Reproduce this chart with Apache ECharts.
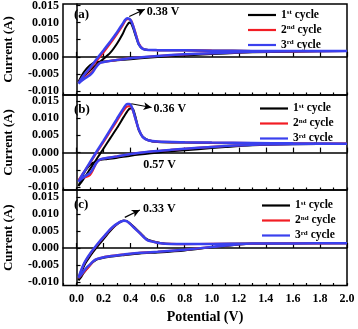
<!DOCTYPE html>
<html><head><meta charset="utf-8">
<script src="https://cdn.jsdelivr.net/npm/echarts@6/dist/echarts.min.js"></script>
<style>html,body{margin:0;padding:0;background:#fff}#c{width:358px;height:329px}</style>
</head><body><div id="c"></div>
<script>
const cycleNames = ['1st cycle', '2nd cycle', '3rd cycle'];
const xTickValues = [0.0, 0.2, 0.4, 0.6, 0.8, 1.0, 1.2, 1.4, 1.6, 1.8, 2.0];
const yTickValues = [-0.010, -0.005, 0.000, 0.005, 0.010, 0.015];
const panelLabels = ['(a)', '(b)', '(c)'];
const peakLabels = ['0.38 V', '0.36 V', '0.33 V'];
const extraLabel = '0.57 V';

// ---- panel (a): potential (V) and current (mA) ----
const aCathV = [2.0, 1.6, 1.3, 1.1, 0.9, 0.7, 0.55, 0.4, 0.3, 0.22, 0.18, 0.16, 0.14, 0.12, 0.1, 0.07, 0.04, 0.015];
const aCath1 = [1.7, 1.5, 1.3, 1.0, 0.6, 0.2, -0.2, -0.7, -1.0, -1.3, -1.4, -1.5, -1.6, -1.9, -2.5, -3.7, -5.4, -7.3];
const aCath2 = [1.7, 1.6, 1.45, 1.2, 0.9, 0.5, 0.1, -0.4, -0.9, -1.4, -1.7, -2.2, -3.1, -4.2, -5.0, -5.9, -6.8, -7.6];
const aCath3 = [1.7, 1.6, 1.45, 1.2, 0.9, 0.5, 0.1, -0.4, -0.9, -1.4, -1.7, -2.3, -3.3, -4.5, -5.3, -6.1, -6.9, -7.8];
const aAnodV = [0.015, 0.05, 0.1, 0.15, 0.2, 0.25, 0.3, 0.34, 0.36, 0.375, 0.39, 0.405, 0.42, 0.44, 0.46, 0.49, 0.53, 0.6, 0.8, 1.0, 1.3, 1.6, 2.0];
const aAnod1 = [-7.3, -5.8, -4.0, -2.2, -0.6, 1.2, 3.9, 6.6, 8.3, 9.3, 10.0, 9.7, 8.2, 5.8, 3.6, 2.3, 2.0, 1.95, 1.9, 1.8, 1.7, 1.7, 1.7];
const aAnod2 = [-7.6, -5.7, -3.5, -1.1, 1.3, 3.9, 6.7, 9.1, 10.5, 11.0, 11.0, 10.5, 9.0, 6.5, 4.0, 2.4, 2.0, 1.95, 1.9, 1.8, 1.7, 1.7, 1.7];
const aAnod3 = [-7.8, -5.6, -3.2, -0.6, 1.9, 4.5, 7.2, 9.6, 10.8, 11.3, 11.1, 10.4, 8.8, 6.2, 3.7, 2.3, 2.0, 1.95, 1.9, 1.8, 1.7, 1.7, 1.7];

// ---- panel (b) ----
const bCathV = [2.0, 1.6, 1.3, 1.1, 0.9, 0.7, 0.55, 0.4, 0.3, 0.22, 0.18, 0.16, 0.14, 0.12, 0.1, 0.07, 0.04, 0.015];
const bCath1 = [2.6, 2.4, 2.1, 1.6, 1.0, 0.4, -0.2, -0.9, -1.5, -1.9, -2.1, -2.3, -2.6, -3.0, -3.6, -5.0, -7.2, -9.7];
const bCath2 = [2.6, 2.5, 2.3, 1.9, 1.4, 0.8, 0.3, -0.4, -1.1, -1.6, -1.9, -2.4, -3.5, -5.2, -6.5, -7.1, -7.3, -8.0];
const bCath3 = [2.6, 2.5, 2.3, 1.9, 1.4, 0.8, 0.3, -0.4, -1.1, -1.6, -1.9, -2.4, -3.4, -4.8, -5.9, -6.7, -7.5, -8.4];
const bAnodV = [0.015, 0.05, 0.1, 0.15, 0.2, 0.25, 0.3, 0.34, 0.36, 0.375, 0.39, 0.405, 0.42, 0.44, 0.46, 0.49, 0.53, 0.6, 0.8, 1.0, 1.3, 1.6, 2.0];
const bAnod1 = [-9.7, -7.8, -4.8, -1.8, 1.2, 4.2, 7.2, 9.8, 11.1, 12.0, 12.7, 12.9, 12.5, 9.8, 6.5, 4.6, 3.6, 3.1, 2.9, 2.8, 2.7, 2.6, 2.6];
const bAnod2 = [-8.0, -5.9, -3.0, 0.1, 3.1, 6.2, 9.3, 11.8, 12.9, 13.4, 13.5, 13.2, 11.8, 9.2, 6.8, 4.5, 3.6, 3.2, 3.0, 2.9, 2.8, 2.7, 2.6];
const bAnod3 = [-8.4, -6.0, -2.8, 0.4, 3.5, 6.7, 9.9, 12.4, 13.6, 14.1, 14.1, 13.6, 12.0, 9.3, 6.8, 4.5, 3.6, 3.2, 3.0, 2.9, 2.8, 2.7, 2.6];

// ---- panel (c) ----
const cCathV = [2.0, 1.6, 1.3, 1.2, 1.0, 0.8, 0.6, 0.47, 0.35, 0.245, 0.17, 0.14, 0.12, 0.1, 0.07, 0.05, 0.035, 0.015];
const cCath1 = [1.4, 1.35, 1.25, 1.0, 0.2, -0.7, -1.3, -1.6, -2.1, -2.6, -3.2, -3.6, -4.2, -5.0, -6.4, -7.5, -8.5, -9.5];
const cCath2 = [1.4, 1.35, 1.3, 1.1, 0.3, -0.5, -1.1, -1.4, -1.9, -2.4, -3.0, -3.4, -4.1, -5.1, -6.5, -7.3, -8.0, -8.8];
const cCath3 = [1.4, 1.35, 1.3, 1.1, 0.3, -0.5, -1.1, -1.4, -1.9, -2.4, -3.0, -3.4, -4.0, -4.8, -6.0, -7.0, -7.8, -8.7];
const cAnodV = [0.015, 0.03, 0.05, 0.07, 0.1, 0.12, 0.17, 0.21, 0.245, 0.28, 0.31, 0.33, 0.35, 0.37, 0.39, 0.43, 0.47, 0.52, 0.57, 0.62, 0.7, 0.8, 1.0, 1.3, 1.6, 2.0];
const cAnod1 = [-9.5, -8.0, -5.8, -4.2, -2.4, -1.3, 1.2, 3.1, 4.8, 6.3, 7.3, 7.8, 8.1, 8.0, 7.4, 6.0, 4.5, 2.6, 1.9, 1.5, 1.2, 1.15, 1.2, 1.3, 1.35, 1.4];
const cAnod2 = [-8.8, -7.1, -5.1, -3.6, -1.8, -0.7, 1.8, 3.6, 5.2, 6.5, 7.4, 7.8, 8.0, 7.9, 7.3, 5.8, 4.3, 2.4, 1.8, 1.4, 1.2, 1.15, 1.2, 1.3, 1.35, 1.4];
const cAnod3 = [-8.7, -7.0, -5.0, -3.5, -1.7, -0.6, 1.9, 3.7, 5.3, 6.6, 7.4, 7.8, 8.0, 7.9, 7.3, 5.8, 4.3, 2.4, 1.8, 1.4, 1.2, 1.15, 1.2, 1.3, 1.35, 1.4];

const F = "'Liberation Serif', 'Times New Roman', serif";
const colors = ['#000000', '#f21d24', '#3a40ee'];
const widths = [2, 2.1, 2.5];

function loop(cv, ci, av, ai) {
  const pts = cv.map((v, i) => [v, ci[i] / 1000]);
  av.forEach((v, i) => {
    const last = pts[pts.length - 1];
    if (i === 0 && last[0] === v) return;
    pts.push([v, ai[i] / 1000]);
  });
  return pts;
}

const panels = [
  { loops: [loop(aCathV, aCath1, aAnodV, aAnod1), loop(aCathV, aCath2, aAnodV, aAnod2), loop(aCathV, aCath3, aAnodV, aAnod3)] },
  { loops: [loop(bCathV, bCath1, bAnodV, bAnod1), loop(bCathV, bCath2, bAnodV, bAnod2), loop(bCathV, bCath3, bAnodV, bAnod3)] },
  { loops: [loop(cCathV, cCath1, cAnodV, cAnod1), loop(cCathV, cCath2, cAnodV, cAnod2), loop(cCathV, cCath3, cAnodV, cAnod3)] }
];

// layout
const gridLayout = [
  { top: 4, height: 91, ymin: -0.01117, ymax: 0.01544, legendLeft: 243, legendTop: 4 },
  { top: 95, height: 95, ymin: -0.01087, ymax: 0.01674, legendLeft: 255, legendTop: 97.5 },
  { top: 190, height: 95.5, ymin: -0.01103, ymax: 0.01706, legendLeft: 257, legendTop: 194.5 }
];
const annot = [
  { arrow: [[0.39, 0.0118], [0.505, 0.0139]], text: [0.515, 0.0131] },
  { arrow: [[0.405, 0.0142], [0.555, 0.0131]], text: [0.565, 0.0127] },
  { arrow: [[0.357, 0.0090], [0.468, 0.0112]], text: [0.488, 0.0116] }
];

const grid = [], xAxis = [], yAxis = [], series = [], legend = [], graphic = [];
gridLayout.forEach((g, p) => {
  grid.push({ left: 63, width: 284, top: g.top, height: g.height, show: true,
    borderColor: '#000', borderWidth: 1.5, backgroundColor: 'transparent', outerBoundsMode: 'none', containLabel: false });
  const last = p === 2;
  xAxis.push({ type: 'value', gridIndex: p, min: -0.1, max: 2.0, position: 'bottom',
    name: last ? 'Potential (V)' : '', nameLocation: 'middle', nameGap: 25,
    nameTextStyle: { fontFamily: F, fontWeight: 'bold', fontSize: 14, color: '#000' },
    axisLine: { show: true, lineStyle: { color: '#000', width: 1.5 } },
    axisTick: { show: true, inside: true, length: 5, customValues: xTickValues, lineStyle: { color: '#000', width: 1.2 } },
    axisLabel: { show: last, customValues: xTickValues, margin: 7, formatter: v => v.toFixed(1),
      fontFamily: F, fontWeight: 'bold', fontSize: 12, color: '#000' },
    splitLine: { show: false } });
  xAxis.push({ type: 'value', gridIndex: p, min: -0.1, max: 2.0, interval: 0.1, position: 'top', offset: -g.height,
    axisLine: { show: false }, axisLabel: { show: false }, splitLine: { show: false },
    axisTick: { show: true, inside: false, length: 2.5, lineStyle: { color: '#000', width: 1.2 } } });
  yAxis.push({ type: 'value', gridIndex: p, min: g.ymin, max: g.ymax,
    name: 'Current (A)', nameLocation: 'middle', nameGap: 48, nameRotate: 90,
    nameTextStyle: { fontFamily: F, fontWeight: 'bold', fontSize: 13, color: '#000' },
    axisLine: { show: true, lineStyle: { color: '#000', width: 1.5 } },
    axisTick: { show: true, inside: true, length: 4, customValues: yTickValues, lineStyle: { color: '#000', width: 1.2 } },
    axisLabel: { customValues: yTickValues, margin: 4, formatter: v => v.toFixed(3),
      fontFamily: F, fontWeight: 'bold', fontSize: 12, color: '#000' },
    splitLine: { show: false } });
  panels[p].loops.forEach((pts, c) => {
    const s = { type: 'line', name: cycleNames[c], xAxisIndex: p * 2, yAxisIndex: p, data: pts,
      symbol: 'none', smooth: 0.25, z: 2 + c, animation: false,
      lineStyle: { color: colors[c], width: widths[c] }, itemStyle: { color: colors[c] } };
    if (c === 2) {
      const a = annot[p];
      s.markLine = { silent: true, symbol: ['none', 'arrow'], symbolSize: [6, 8], animation: false,
        lineStyle: { color: '#000', width: 1.2, type: 'solid' }, label: { show: false },
        data: [[{ coord: a.arrow[0] }, { coord: a.arrow[1] }]] };
      const mp = [{ name: peakLabels[p], coord: a.text }];
      if (p === 1) mp.push({ name: extraLabel, coord: [0.49, -0.0036] });
      s.markPoint = { silent: true, symbol: 'circle', symbolSize: 1, animation: false,
        itemStyle: { color: 'rgba(0,0,0,0)' },
        label: { show: true, position: 'right', distance: 0, formatter: '{b}',
          fontFamily: F, fontWeight: 'bold', fontSize: 12, color: '#000' },
        data: mp };
    }
    series.push(s);
  });
  legend.push({ orient: 'vertical', left: g.legendLeft, top: g.legendTop, itemWidth: 28, itemHeight: 2.2, itemGap: 3,
    icon: 'rect', data: cycleNames, selectedMode: false,
    formatter: name => { const m = name.match(/^(\d)(\w\w) (.*)$/); return '{n|' + m[1] + '}{s|' + m[2] + '}{n| ' + m[3] + '}'; },
    textStyle: { color: '#000', lineHeight: 12,
      rich: { n: { fontFamily: F, fontWeight: 'bold', fontSize: 11.5, color: '#000', lineHeight: 12 },
              s: { fontFamily: F, fontWeight: 'bold', fontSize: 7, color: '#000', verticalAlign: 'top', lineHeight: 8 } } } });
  graphic.push({ type: 'text', left: 74, top: g.top + (p === 0 ? 4 : 8),
    style: { text: panelLabels[p], font: "bold 13px " + F, fill: '#000' } });
});

const chart = echarts.init(document.getElementById('c'), null, { renderer: 'canvas' });
chart.setOption({ animation: false, backgroundColor: '#fff', grid, xAxis, yAxis, series, legend, graphic });
</script></body></html>
